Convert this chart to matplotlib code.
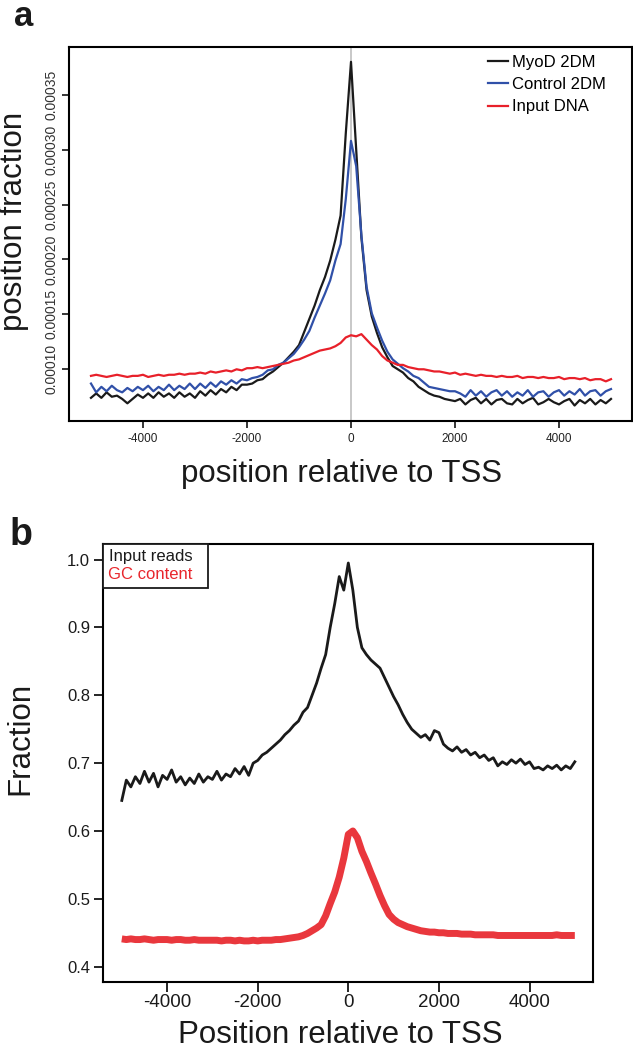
import numpy as np
import matplotlib
matplotlib.use("Agg")
import matplotlib.pyplot as plt

plt.rcParams["font.family"] = ["Liberation Sans", "DejaVu Sans"]
plt.rcParams["axes.unicode_minus"] = False

# positions relative to TSS (bp)
positions = list(range(-5000, 5001, 100))

# panel a: position fraction, in units of 1e-5
myod_2dm = [
    7.4, 7.8, 7.4, 7.9, 7.5, 7.6, 7.3, 6.9, 7.3, 7.7,
    7.4, 7.8, 7.4, 7.9, 7.5, 7.8, 7.4, 7.9, 7.5, 7.8,
    7.4, 8.0, 7.6, 8.1, 7.7, 8.2, 7.9, 8.4, 8.1, 8.6,
    8.6, 8.7, 9.0, 9.1, 9.5, 9.8, 10.2, 10.6, 11.1, 11.6,
    12.2, 13.4, 14.6, 15.8, 17.2, 18.4, 19.9, 21.8, 24.0, 31.5,
    38.0, 30.0, 22.0, 17.2, 14.8, 13.3, 12.0, 11.1, 10.3, 10.0,
    9.7, 9.2, 8.9, 8.4, 8.1, 7.8, 7.6, 7.5, 7.3, 7.2,
    7.1, 7.3, 6.8, 7.2, 7.4, 6.9, 7.3, 6.8, 7.2, 7.3,
    6.9, 6.8, 7.3, 6.9, 7.2, 7.4, 6.8, 7.0, 7.3, 7.0,
    6.8, 7.1, 7.3, 6.7, 7.2, 6.9, 7.3, 6.8, 7.2, 6.9,
    7.3,
]
control_2dm = [
    8.7, 7.9, 8.4, 8.0, 8.5, 8.1, 7.9, 8.3, 8.0, 8.4,
    8.1, 8.5, 8.0, 8.4, 8.1, 8.6, 8.1, 8.5, 8.2, 8.7,
    8.2, 8.7, 8.3, 8.8, 8.4, 8.9, 8.6, 9.0, 8.7, 9.1,
    9.0, 9.2, 9.3, 9.5, 9.9, 10.0, 10.4, 10.6, 11.0, 11.4,
    12.0, 12.7, 13.5, 14.7, 15.8, 16.9, 18.1, 19.9, 21.4, 25.5,
    30.8, 28.5, 22.2, 17.5, 15.1, 13.8, 12.6, 11.6, 10.9, 10.5,
    10.1, 9.8, 9.4, 9.2, 8.8, 8.4, 8.3, 8.2, 8.1, 8.0,
    8.0, 7.8, 7.5, 8.1, 7.6, 8.0, 7.5, 7.9, 8.1, 7.6,
    8.0, 7.5, 7.9, 7.6, 8.1, 7.5, 7.9, 8.0, 7.5, 7.9,
    8.1, 7.6, 8.0, 7.7, 8.2, 7.6, 8.0, 8.1, 7.6, 8.0,
    8.2,
]
input_dna = [
    9.4, 9.5, 9.4, 9.3, 9.4, 9.5, 9.4, 9.3, 9.4, 9.4,
    9.5, 9.3, 9.4, 9.5, 9.4, 9.5, 9.5, 9.6, 9.5, 9.6,
    9.6, 9.7, 9.6, 9.8, 9.7, 9.8, 9.9, 9.8, 10.0, 9.9,
    10.1, 10.1, 10.2, 10.1, 10.2, 10.3, 10.4, 10.5, 10.6, 10.8,
    10.9, 11.1, 11.3, 11.5, 11.7, 11.8, 11.9, 12.1, 12.4, 12.9,
    13.1, 13.0, 13.2, 12.7, 12.2, 11.8, 11.2, 10.8, 10.6, 10.4,
    10.4, 10.2, 10.1, 10.0, 10.0, 9.9, 9.8, 9.8, 9.7, 9.6,
    9.7, 9.5, 9.6, 9.5, 9.4, 9.5, 9.4, 9.4, 9.3, 9.4,
    9.3, 9.3, 9.4, 9.2, 9.3, 9.3, 9.2, 9.3, 9.2, 9.2,
    9.3, 9.1, 9.2, 9.2, 9.1, 9.2, 9.0, 9.1, 9.1, 8.9,
    9.1,
]

# panel b: fraction
input_reads = [
    0.645, 0.675, 0.665, 0.680, 0.670, 0.688, 0.672, 0.685, 0.665, 0.682,
    0.676, 0.690, 0.672, 0.680, 0.668, 0.678, 0.670, 0.684, 0.672, 0.680,
    0.676, 0.688, 0.675, 0.684, 0.680, 0.692, 0.684, 0.695, 0.682, 0.700,
    0.704, 0.712, 0.716, 0.722, 0.728, 0.734, 0.742, 0.748, 0.756, 0.762,
    0.775, 0.782, 0.800, 0.818, 0.840, 0.860, 0.900, 0.935, 0.975, 0.955,
    0.995, 0.955, 0.900, 0.870, 0.860, 0.852, 0.846, 0.840, 0.826, 0.812,
    0.798, 0.786, 0.772, 0.760, 0.750, 0.744, 0.738, 0.742, 0.734, 0.748,
    0.745, 0.728, 0.722, 0.718, 0.724, 0.716, 0.720, 0.712, 0.716, 0.708,
    0.712, 0.704, 0.708, 0.696, 0.702, 0.698, 0.705, 0.700, 0.706, 0.698,
    0.702, 0.692, 0.694, 0.690, 0.696, 0.692, 0.697, 0.690, 0.696, 0.692,
    0.702,
]
gc_content = [
    0.441, 0.440, 0.441, 0.440, 0.440, 0.441, 0.440, 0.439, 0.440, 0.440,
    0.440, 0.439, 0.440, 0.440, 0.439, 0.439, 0.440, 0.439, 0.439, 0.439,
    0.439, 0.439, 0.438, 0.439, 0.439, 0.438, 0.439, 0.438, 0.438, 0.439,
    0.438, 0.439, 0.439, 0.439, 0.440, 0.440, 0.441, 0.442, 0.443, 0.444,
    0.446, 0.449, 0.453, 0.457, 0.462, 0.475, 0.493, 0.510, 0.532, 0.560,
    0.595, 0.600, 0.590, 0.570, 0.555, 0.538, 0.522, 0.505, 0.490, 0.477,
    0.470, 0.465, 0.462, 0.459, 0.457, 0.455, 0.453, 0.452, 0.451, 0.451,
    0.450, 0.450, 0.449, 0.449, 0.449, 0.448, 0.448, 0.448, 0.447, 0.447,
    0.447, 0.447, 0.447, 0.446, 0.446, 0.446, 0.446, 0.446, 0.446, 0.446,
    0.446, 0.446, 0.446, 0.446, 0.446, 0.446, 0.447, 0.446, 0.446, 0.446,
    0.446,
]

xticks = [-4000, -2000, 0, 2000, 4000]
a_yticks = [0.00010, 0.00015, 0.00020, 0.00025, 0.00030, 0.00035]
a_yticklabels = ["0.00010", "0.00015", "0.00020", "0.00025", "0.00030", "0.00035"]
b_yticks = [0.4, 0.5, 0.6, 0.7, 0.8, 0.9, 1.0]
b_yticklabels = ["0.4", "0.5", "0.6", "0.7", "0.8", "0.9", "1.0"]

W, H = 633, 1050
fig = plt.figure(figsize=(W / 100, H / 100), dpi=100)


def box(left, top, right, bottom):
    return [left / W, 1 - bottom / H, (right - left) / W, (bottom - top) / H]


# ---- panel a ----
ax = fig.add_axes(box(69.3, 47, 631.7, 421))
ax.axvline(0, color="#c4c4c4", lw=1.3, zorder=1)
l1, = ax.plot(positions, np.array(myod_2dm) * 1e-5, color="#1a1a1a", lw=1.6)
l2, = ax.plot(positions, np.array(control_2dm) * 1e-5, color="#3050a8", lw=1.6)
l3, = ax.plot(positions, np.array(input_dna) * 1e-5, color="#e8202a", lw=1.6)
ax.set_xlim(-5417, 5398)
ax.set_ylim(5.29e-5, 3.935e-4)
ax.set_xticks(xticks)
ax.set_xticklabels([str(t) for t in xticks], fontsize=8.5, color="#222222")
ax.set_yticks(a_yticks)
ax.set_yticklabels(a_yticklabels, fontsize=10, color="#333333")
for lab in ax.get_yticklabels():
    lab.set_rotation(90)
    lab.set_va("center")
ax.tick_params(axis="x", length=5, width=1.1, pad=3.5)
ax.tick_params(axis="y", length=5, width=1.1, pad=3)
for s in ax.spines.values():
    s.set_linewidth(1.5)
leg = ax.legend([l1, l2, l3], ["MyoD 2DM", "Control 2DM", "Input DNA"],
                loc="upper left", bbox_to_anchor=(488 / W, 1 - 55 / H),
                bbox_transform=fig.transFigure, frameon=False, fontsize=12,
                borderpad=0, borderaxespad=0, handlelength=1.2,
                handletextpad=0.25, labelspacing=0.43)

fig.text(341.5 / W, 1 - 482 / H, "position relative to TSS", fontsize=22.5,
         ha="center", va="baseline", color="#1a1a1a")
fig.text(14 / W, 1 - 221 / H, "position fraction", fontsize=22.5,
         rotation=90, ha="center", va="center", color="#1a1a1a")
fig.text(14 / W, 1 - 26 / H, "a", fontsize=25, fontweight="bold",
         ha="left", va="baseline", color="#1a1a1a")

# ---- panel b ----
bx = fig.add_axes(box(103, 544, 593.3, 982.3))
m1, = bx.plot(positions, input_reads, color="#1a1a1a", lw=2.0)
m2, = bx.plot(positions, gc_content, color="#e8262c", lw=5, alpha=0.92,
              solid_capstyle="butt")
bx.set_xlim(-5415, 5408)
bx.set_ylim(0.377, 1.023)
bx.set_xticks(xticks)
bx.set_xticklabels([str(t) for t in xticks], fontsize=13.5, color="#1a1a1a")
bx.set_yticks(b_yticks)
bx.set_yticklabels(b_yticklabels, fontsize=12, color="#1a1a1a")
bx.tick_params(axis="x", length=7, width=1.2, pad=1.5)
bx.tick_params(axis="y", length=6.3, width=1.2, pad=3)
for s in bx.spines.values():
    s.set_linewidth(1.5)
legb = bx.legend([m1, m2], ["Input reads", "GC content"], loc="upper left",
                 bbox_to_anchor=(0, 1), borderaxespad=0, fontsize=12,
                 fancybox=False, framealpha=1, edgecolor="#1a1a1a",
                 borderpad=0.32, labelspacing=0.17, markerfirst=False,
                 handlelength=0.3, handletextpad=0.3)
legb.get_frame().set_linewidth(1.3)
for h in legb.legend_handles:
    h.set_visible(False)
legb.get_texts()[0].set_color("#1a1a1a")
legb.get_texts()[1].set_color("#e8262c")

fig.text(340 / W, 1 - 1043 / H, "Position relative to TSS", fontsize=22.5,
         ha="center", va="baseline", color="#1a1a1a")
fig.text(20.4 / W, 1 - 738 / H, "Fraction", fontsize=22.5,
         rotation=90, ha="center", va="center", color="#1a1a1a")
fig.text(10 / W, 1 - 545 / H, "b", fontsize=27, fontweight="bold",
         ha="left", va="baseline", color="#1a1a1a")

fig.savefig("out.png", dpi=100)
